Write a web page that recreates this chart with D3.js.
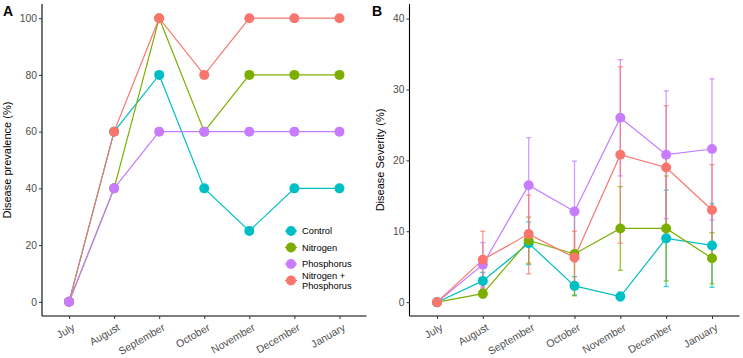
<!DOCTYPE html>
<html>
<head>
<meta charset="utf-8">
<script src="https://cdn.jsdelivr.net/npm/d3@7"></script>
<style>
  html, body { margin: 0; padding: 0; background: #fff; }
  svg { display: block; font-family: "Liberation Sans", Arial, sans-serif; }
</style>
</head>
<body>
<svg id="chart" width="743" height="358"></svg>
<script>
const months = ["July","August","September","October","November","December","January"];
const seriesNames = ["Control","Nitrogen","Phosphorus","Nitrogen + Phosphorus"];
const seriesColors = ["#00BFC4","#7CAE00","#C77CFF","#F8766D"];

// Panel A: disease prevalence (%)
const prevControl    = [0, 60, 80, 40, 25, 40, 40];
const prevNitrogen   = [0, 40, 100, 60, 80, 80, 80];
const prevPhosphorus = [0, 40, 60, 60, 60, 60, 60];
const prevNP         = [0, 60, 100, 80, 100, 100, 100];
const prevTicks = [0, 20, 40, 60, 80, 100];

// Panel B: disease severity (%) with lower/upper error limits
const sevControl    = [0, 3.0, 8.3, 2.3, 0.8, 9.0, 8.0];
const sevControlLo  = [0, 1.8, 5.3, 1.0, 0.2, 2.2, 2.1];
const sevControlHi  = [0, 4.2, 11.3, 3.6, 1.4, 15.8, 13.9];
const sevNitrogen   = [0, 1.2, 8.7, 6.8, 10.4, 10.4, 6.2];
const sevNitrogenLo = [0, 0.6, 5.5, 0.9, 4.5, 3.0, 2.6];
const sevNitrogenHi = [0, 1.8, 12.0, 12.6, 16.3, 17.8, 9.8];
const sevPhosphorus   = [0, 5.3, 16.5, 12.8, 26.0, 20.8, 21.6];
const sevPhosphorusLo = [0, 2.2, 9.8, 5.7, 17.8, 11.8, 11.6];
const sevPhosphorusHi = [0, 8.4, 23.2, 19.9, 34.2, 29.8, 31.5];
const sevNP   = [0, 6.0, 9.6, 6.3, 20.8, 19.0, 13.0];
const sevNPLo = [0, 2.0, 4.0, 2.6, 8.3, 10.3, 6.6];
const sevNPHi = [0, 10.0, 15.1, 10.0, 33.2, 27.7, 19.4];
const sevTicks = [0, 10, 20, 30, 40];

const svg = d3.select("#chart");
const tickColor = "#4D4D4D";

function panel(opts) {
  const g = svg.append("g");
  const x = d3.scalePoint().domain(months).range([opts.x0, opts.x1]).padding(0.6);
  const y = d3.scaleLinear().domain(opts.ydom).range([opts.yb, opts.yt]);

  // axes
  const ax = g.append("g").attr("transform", `translate(0,${opts.yb})`)
    .call(d3.axisBottom(x).tickSize(3).tickPadding(3));
  ax.select(".domain").attr("stroke", "#000").attr("stroke-width", 1.1)
    .attr("d", `M${opts.x0},0H${opts.x1}`);
  ax.selectAll(".tick line").attr("stroke", "#333");
  ax.selectAll(".tick text")
    .attr("fill", tickColor).attr("font-size", 10.5)
    .attr("text-anchor", "end")
    .attr("dy", null).attr("y", null)
    .attr("transform", "translate(6,13.5) rotate(-30)");

  const ay = g.append("g").attr("transform", `translate(${opts.x0},0)`)
    .call(d3.axisLeft(y).tickValues(opts.ticks).tickSize(3).tickPadding(2));
  ay.select(".domain").attr("stroke", "#000").attr("stroke-width", 1.1)
    .attr("d", `M0,${opts.yt}V${opts.yb}`);
  ay.selectAll(".tick line").attr("stroke", "#333");
  ay.selectAll(".tick text").attr("fill", tickColor).attr("font-size", 10.3);

  // y title
  g.append("text")
    .attr("transform", `translate(${opts.x0 - opts.titleOff},${(opts.yt + opts.yb) / 2}) rotate(-90)`)
    .attr("text-anchor", "middle").attr("font-size", 11).attr("fill", "#000")
    .text(opts.ytitle);

  // panel letter
  g.append("text").attr("x", opts.letterX).attr("y", 16)
    .attr("font-size", 14).attr("font-weight", "bold").attr("fill", "#000")
    .text(opts.letter);

  const line = d3.line().x((d, i) => x(months[i])).y(d => y(d));

  // error bars
  if (opts.err) {
    opts.order.forEach(si => {
      const [lo, hi] = opts.err[si];
      const eg = g.append("g").attr("stroke", seriesColors[si])
        .attr("stroke-opacity", 0.75).attr("stroke-width", 1.3);
      months.forEach((m, i) => {
        if (hi[i] - lo[i] <= 0) return;
        const cx = x(m);
        eg.append("line").attr("x1", cx).attr("x2", cx).attr("y1", y(lo[i])).attr("y2", y(hi[i]));
        eg.append("line").attr("x1", cx - 2.5).attr("x2", cx + 2.5).attr("y1", y(lo[i])).attr("y2", y(lo[i]));
        eg.append("line").attr("x1", cx - 2.5).attr("x2", cx + 2.5).attr("y1", y(hi[i])).attr("y2", y(hi[i]));
      });
    });
  }

  opts.order.forEach(si => {
    g.append("path").datum(opts.values[si]).attr("d", line)
      .attr("fill", "none").attr("stroke", seriesColors[si]).attr("stroke-width", 1.2);
  });
  opts.order.forEach(si => {
    g.append("g").selectAll("circle").data(opts.values[si]).join("circle")
      .attr("cx", (d, i) => x(months[i])).attr("cy", d => y(d))
      .attr("r", 5).attr("fill", seriesColors[si]);
  });
  return { x, y, g };
}

panel({
  x0: 42, x1: 366.5, yt: 4, yb: 316, ydom: [-5, 105], ticks: prevTicks,
  values: [prevControl, prevNitrogen, prevPhosphorus, prevNP],
  order: [0, 1, 3, 2], titleOff: 31,
  ytitle: "Disease prevalence (%)", letter: "A", letterX: 3
});

panel({
  x0: 409.5, x1: 739.5, yt: 4, yb: 316, ydom: [-1.95, 42.05], ticks: sevTicks,
  values: [sevControl, sevNitrogen, sevPhosphorus, sevNP],
  err: [[sevControlLo, sevControlHi], [sevNitrogenLo, sevNitrogenHi],
        [sevPhosphorusLo, sevPhosphorusHi], [sevNPLo, sevNPHi]],
  order: [0, 1, 2, 3], titleOff: 26,
  ytitle: "Disease Severity (%)", letter: "B", letterX: 372
});

// legend in panel A
const leg = svg.append("g");
const legY = [231, 247.5, 264, 280.5];
seriesNames.forEach((name, i) => {
  leg.append("line").attr("x1", 285).attr("x2", 297).attr("y1", legY[i]).attr("y2", legY[i])
    .attr("stroke", seriesColors[i]).attr("stroke-width", 1.2);
  leg.append("circle").attr("cx", 291).attr("cy", legY[i]).attr("r", 5).attr("fill", seriesColors[i]);
  const parts = name === "Nitrogen + Phosphorus" ? ["Nitrogen +", "Phosphorus"] : [name];
  const t = leg.append("text").attr("font-size", 9.3).attr("fill", "#000");
  parts.forEach((p, k) => {
    t.append("tspan").attr("x", 302)
      .attr("y", legY[i] + 3.3 + (parts.length === 2 ? (k === 0 ? -5 : 5) : 0))
      .text(p);
  });
});
</script>
</body>
</html>
